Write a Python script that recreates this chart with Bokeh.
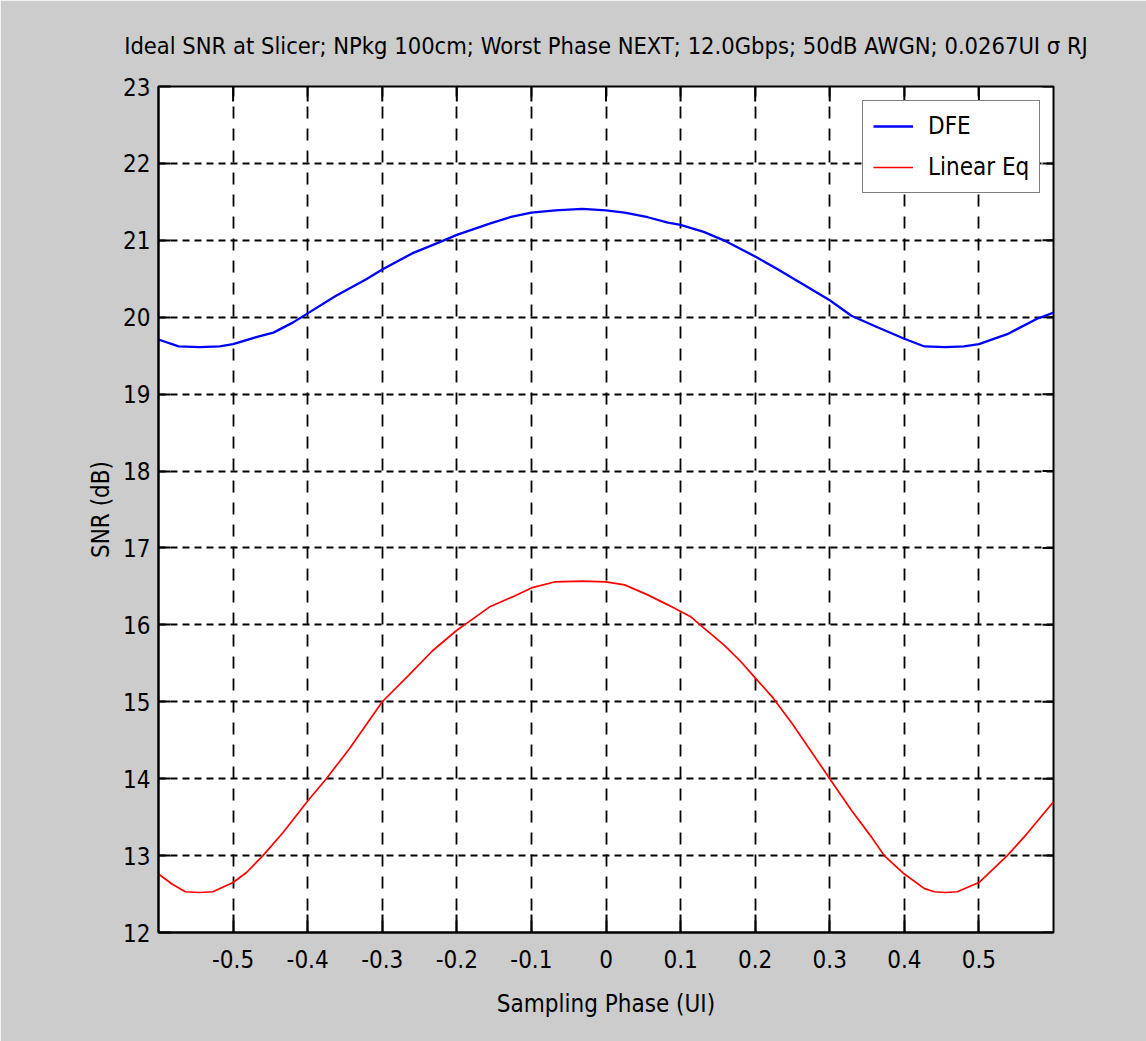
import math
from bokeh.plotting import figure
from bokeh.models import Range1d, FixedTicker, Legend, LegendItem
from bokeh.embed import file_html
from bokeh.resources import INLINE

# Sampling phase (UI) and SNR (dB) for the two equalizer types
dfe_phase = [-0.6, -0.573, -0.545, -0.518, -0.5, -0.469, -0.446, -0.42, -0.4, -0.362,
             -0.322, -0.3, -0.26, -0.222, -0.2, -0.155, -0.129, -0.1, -0.068, -0.032,
             0.0, 0.025, 0.056, 0.083, 0.1, 0.131, 0.158, 0.18, 0.2, 0.229,
             0.264, 0.3, 0.329, 0.364, 0.4, 0.427, 0.455, 0.48, 0.5, 0.538,
             0.578, 0.6]
dfe_snr = [19.71, 19.62, 19.61, 19.62, 19.65, 19.74, 19.80, 19.93, 20.05, 20.28,
           20.49, 20.62, 20.83, 20.98, 21.07, 21.22, 21.30, 21.36, 21.39, 21.41,
           21.39, 21.36, 21.30, 21.23, 21.20, 21.11, 21.00, 20.89, 20.79, 20.63,
           20.43, 20.22, 20.02, 19.87, 19.72, 19.62, 19.61, 19.62, 19.65, 19.78,
           19.98, 20.06]

lin_phase = [-0.6, -0.582, -0.564, -0.545, -0.527, -0.5, -0.482, -0.46, -0.433, -0.4,
             -0.375, -0.344, -0.3, -0.264, -0.233, -0.2, -0.187, -0.155, -0.124, -0.1,
             -0.068, -0.032, 0.0, 0.025, 0.056, 0.083, 0.113, 0.131, 0.158, 0.18,
             0.2, 0.224, 0.25, 0.3, 0.329, 0.356, 0.373, 0.4, 0.427, 0.44,
             0.455, 0.471, 0.5, 0.538, 0.564, 0.6]
lin_snr = [12.76, 12.63, 12.53, 12.52, 12.53, 12.65, 12.78, 13.0, 13.30, 13.71,
           14.0, 14.39, 15.0, 15.35, 15.66, 15.93, 16.02, 16.24, 16.37, 16.48,
           16.56, 16.57, 16.56, 16.52, 16.39, 16.26, 16.11, 15.96, 15.74, 15.53,
           15.31, 15.05, 14.71, 14.0, 13.59, 13.24, 13.0, 12.76, 12.57, 12.53,
           12.52, 12.53, 12.65, 13.0, 13.28, 13.70]

x_ticks = [-0.5, -0.4, -0.3, -0.2, -0.1, 0.0, 0.1, 0.2, 0.3, 0.4, 0.5]
x_tick_labels = ["-0.5", "-0.4", "-0.3", "-0.2", "-0.1", "0", "0.1", "0.2", "0.3", "0.4", "0.5"]
y_ticks = list(range(12, 24))
x_lo, x_hi = -0.6, 0.6
y_lo, y_hi = 12, 23

FONT = "DejaVu Sans Condensed"
FS = "24px"
BG = "#cccccc"

W, H = 1146, 1041
p = figure(width=W, height=H, output_backend="svg", toolbar_location=None,
           x_range=Range1d(x_lo, x_hi), y_range=Range1d(y_lo, y_hi),
           min_border_left=158, min_border_right=W - 1053,
           min_border_top=86, min_border_bottom=H - 932,
           background_fill_color="white", border_fill_color=BG,
           outline_line_color="black", outline_line_width=2)

p.title.text = "Ideal SNR at Slicer; NPkg 100cm; Worst Phase NEXT; 12.0Gbps; 50dB AWGN; 0.0267UI \u03c3 RJ"
p.title.align = "center"
p.title.text_font = FONT
p.title.text_font_size = "23.5px"
p.title.text_font_style = "normal"
p.title.text_color = "black"
p.title.padding = dict(left=0, right=0, top=0, bottom=22)

xticker = FixedTicker(ticks=x_ticks)
yticker = FixedTicker(ticks=y_ticks)

xa = p.xaxis[0]
xa.ticker = xticker
xa.major_label_overrides = {t: s for t, s in zip(x_ticks, x_tick_labels)}
xa.axis_label = "Sampling Phase (UI)"
xa.major_tick_in = 18
xa.major_label_standoff = 17
xa.axis_label_standoff = 19

ya = p.yaxis[0]
ya.ticker = yticker
ya.axis_label = "SNR (dB)"
ya.major_tick_in = 12
ya.major_label_standoff = 8
ya.axis_label_standoff = 5

for ax in (xa, ya):
    ax.major_tick_out = 0
    ax.minor_tick_in = 0
    ax.minor_tick_out = 0
    ax.axis_line_color = "black"
    ax.axis_line_width = 2
    ax.major_tick_line_color = "black"
    ax.major_tick_line_width = 2
    ax.major_label_text_font = FONT
    ax.major_label_text_font_size = FS
    ax.major_label_text_color = "black"
    ax.axis_label_text_font = FONT
    ax.axis_label_text_font_size = FS
    ax.axis_label_text_font_style = "normal"
    ax.axis_label_text_color = "black"

# inward ticks along the top and right edges of the box
p.ray(x=x_ticks, y=[y_hi] * len(x_ticks), length=15, angle=-math.pi / 2,
      length_units="screen", line_color="black", line_width=2)
p.ray(x=[x_hi] * len(y_ticks), y=y_ticks, length=11, angle=math.pi,
      length_units="screen", line_color="black", line_width=2)

p.xgrid.ticker = xticker
p.ygrid.ticker = yticker
p.xgrid.grid_line_color = "black"
p.xgrid.grid_line_dash = "12 10"
p.xgrid.grid_line_width = 1.8
p.ygrid.grid_line_color = "black"
p.ygrid.grid_line_dash = "7 5"
p.ygrid.grid_line_width = 2

r_dfe = p.line(dfe_phase, dfe_snr, line_color="#0000ff", line_width=2.3)
r_lin = p.line(lin_phase, lin_snr, line_color="#ff0000", line_width=1.7)

legend = Legend(items=[LegendItem(label="DFE", renderers=[r_dfe]),
                       LegendItem(label="Linear Eq", renderers=[r_lin])],
                location=(704, 739), orientation="vertical",
                glyph_width=40, glyph_height=30, label_height=30,
                label_standoff=15, spacing=11, padding=10, margin=0,
                border_line_color="black", border_line_width=1.5,
                background_fill_color="white", background_fill_alpha=1.0,
                label_text_font=FONT, label_text_font_size=FS,
                label_text_color="black")
p.add_layout(legend)

open("out.html", "w").write(file_html(p, INLINE))
